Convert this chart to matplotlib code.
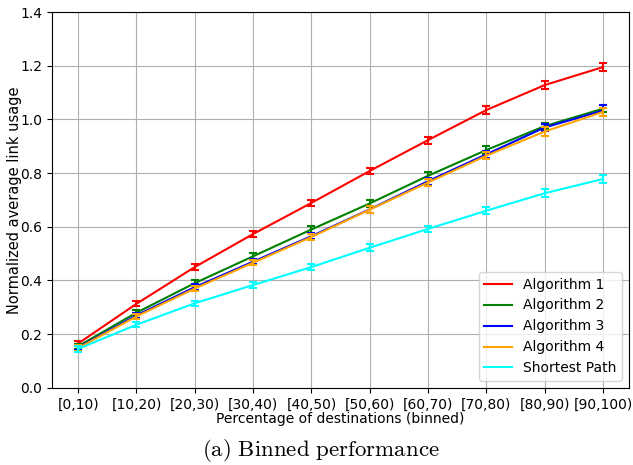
import numpy as np
import matplotlib
matplotlib.use("Agg")
import matplotlib.pyplot as plt

plt.rcParams['mathtext.fontset'] = 'cm'

bins = ['[0,10)', '[10,20)', '[20,30)', '[30,40)', '[40,50)',
        '[50,60)', '[60,70)', '[70,80)', '[80,90)', '[90,100)']

names = ['Algorithm 1', 'Algorithm 2', 'Algorithm 3', 'Algorithm 4', 'Shortest Path']
colors = ['red', 'green', 'blue', 'orange', 'cyan']

alg1 = [0.165, 0.313, 0.450, 0.573, 0.689, 0.808, 0.923, 1.035, 1.128, 1.195]
alg2 = [0.155, 0.280, 0.390, 0.490, 0.590, 0.687, 0.790, 0.886, 0.975, 1.040]
alg3 = [0.150, 0.270, 0.375, 0.470, 0.565, 0.665, 0.770, 0.870, 0.970, 1.033]
alg4 = [0.148, 0.266, 0.370, 0.466, 0.562, 0.664, 0.765, 0.865, 0.955, 1.028]
short = [0.145, 0.235, 0.315, 0.383, 0.450, 0.522, 0.592, 0.660, 0.725, 0.778]

err1 = [0.010, 0.010, 0.010, 0.011, 0.012, 0.012, 0.013, 0.014, 0.015, 0.016]
err2 = [0.010, 0.010, 0.010, 0.011, 0.012, 0.012, 0.013, 0.014, 0.010, 0.012]
err3 = [0.010, 0.010, 0.010, 0.010, 0.011, 0.012, 0.013, 0.014, 0.012, 0.020]
err4 = [0.010, 0.010, 0.010, 0.010, 0.011, 0.012, 0.013, 0.014, 0.015, 0.015]
err5 = [0.010, 0.010, 0.010, 0.010, 0.011, 0.012, 0.012, 0.013, 0.014, 0.015]

series = [alg1, alg2, alg3, alg4, short]
errs = [err1, err2, err3, err4, err5]

fig = plt.figure(figsize=(6.33, 4.65), dpi=100)
ax = fig.add_axes([0.082, 0.166, 0.912, 0.808])
x = np.arange(len(bins))

for vals, e, c, n in zip(series, errs, colors, names):
    ax.plot(x, vals, color=c, label=n, linewidth=1.5)
    ax.errorbar(x, vals, yerr=e, color=c, capsize=3, linewidth=1.5,
                capthick=1.5, fmt='none')

ax.set_xticks(x)
ax.set_xticklabels(bins)
ax.set_ylim(0, 1.4)
ax.set_yticks(np.arange(0, 1.41, 0.2))
ax.grid(True, color='#b0b0b0', linewidth=0.8)
ax.set_axisbelow(True)
ax.set_xlabel('Percentage of destinations (binned)', labelpad=0)
ax.set_ylabel('Normalized average link usage', labelpad=-1, fontsize=10.5)
ax.legend(loc='lower right', fontsize=10)

fig.text(0.507, 0.032, r'$\mathrm{(a)\ Binned\ performance}$', ha='center',
         va='center', fontsize=16.5)

fig.savefig('out.png', dpi=100)
